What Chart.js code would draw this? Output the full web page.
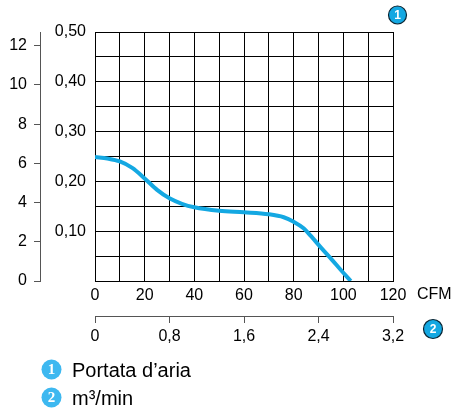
<!DOCTYPE html>
<html>
<head>
<meta charset="utf-8">
<script src="https://cdn.jsdelivr.net/npm/chart.js@4.4.1/dist/chart.umd.min.js"></script>
<style>
  html, body { margin: 0; padding: 0; background: #fff; }
  #wrap { width: 454px; height: 410px; }
</style>
</head>
<body>
<div id="wrap"><canvas id="fan"></canvas></div>
<script>
// fan curve: airflow (CFM) vs static pressure (in H2O)
const airflowCfm = [0, 5, 10, 15, 20, 25, 30, 35, 40, 50, 60, 70, 76, 80, 84, 87, 91, 95, 99, 103];
const pressureInH2O = [0.249, 0.246, 0.240, 0.227, 0.206, 0.183, 0.166, 0.155, 0.148, 0.141, 0.138, 0.134, 0.128, 0.119, 0.106, 0.090, 0.067, 0.045, 0.022, 0];

const legendLabels = ['Portata d\u2019aria', 'm\u00b3/min'];
const unitLabel = 'CFM';

const curveBlue = '#14a8e2';
const badgeBlue = '#3db8f0';

Chart.defaults.font.family = '"Liberation Sans", Arial, sans-serif';
Chart.defaults.font.size = 16;
Chart.defaults.color = '#000';

const comma = (v, d) => (v === 0 ? '0' : v.toFixed(d).replace('.', ','));

function badge(ctx, x, y, r, n, fill, stroke, font) {
  ctx.beginPath();
  ctx.arc(x, y, r, 0, Math.PI * 2);
  ctx.fillStyle = fill;
  ctx.fill();
  if (stroke) {
    ctx.lineWidth = 1.2;
    ctx.strokeStyle = stroke;
    ctx.stroke();
  }
  ctx.fillStyle = '#fff';
  ctx.font = font;
  ctx.textAlign = 'center';
  ctx.textBaseline = 'middle';
  ctx.fillText(n, x, y + 1);
}

const extrasPlugin = {
  id: 'extras',
  afterDraw(chart) {
    const ctx = chart.ctx;
    const xs = chart.scales.x;
    ctx.save();
    // unit after the CFM labels
    ctx.fillStyle = '#000';
    ctx.font = '16px "Liberation Sans", Arial, sans-serif';
    ctx.textAlign = 'left';
    ctx.textBaseline = 'middle';
    ctx.fillText(unitLabel, xs.right + 24, 295);
    // numbered badges
    badge(ctx, 397.5, 15, 9, '1', curveBlue, '#0b2533', 'bold 12px "Liberation Sans", Arial, sans-serif');
    badge(ctx, 433, 329, 9.5, '2', curveBlue, '#0b2533', 'bold 12px "Liberation Sans", Arial, sans-serif');
    // legend
    legendLabels.forEach((txt, i) => {
      const cy = 369.5 + i * 28;
      badge(ctx, 51.5, cy, 10, String(i + 1), badgeBlue, null, 'bold 15px "Liberation Serif", serif');
      ctx.fillStyle = '#000';
      ctx.font = '20px "Liberation Sans", Arial, sans-serif';
      ctx.textAlign = 'left';
      ctx.textBaseline = 'alphabetic';
      ctx.fillText(txt, 72, cy + 7);
    });
    ctx.restore();
  }
};

new Chart('fan', {
  type: 'line',
  data: {
    datasets: [{
      label: legendLabels[0],
      data: airflowCfm.map((x, i) => ({ x, y: pressureInH2O[i] })),
      borderColor: curveBlue,
      borderWidth: 4,
      pointRadius: 0,
      cubicInterpolationMode: 'monotone',
      fill: false,
      xAxisID: 'x',
      yAxisID: 'y'
    }]
  },
  options: {
    responsive: true,
    maintainAspectRatio: false,
    animation: false,
    layout: { padding: { left: 0, top: 32, right: 61, bottom: 60 } },
    plugins: { legend: { display: false }, tooltip: { enabled: false } },
    scales: {
      x: {
        type: 'linear', position: 'bottom', weight: 0,
        min: 0, max: 120,
        grid: { color: '#000', lineWidth: 1, drawTicks: false },
        border: { color: '#000', width: 1 },
        ticks: {
          stepSize: 10, padding: 5, maxRotation: 0, autoSkip: false,
          callback: v => (v % 20 === 0 ? String(v) : '')
        },
        afterFit: s => { s.height = 35; }
      },
      x2: {
        type: 'linear', position: 'bottom', weight: 1,
        min: 0, max: 3.2,
        grid: { drawOnChartArea: false, drawTicks: true, tickLength: 7, color: '#555' },
        border: { color: '#555', width: 1 },
        ticks: { stepSize: 0.8, padding: 4, maxRotation: 0, autoSkip: false, callback: v => comma(v, 1) },
        afterFit: s => { s.height = 34; }
      },
      y: {
        type: 'linear', position: 'left', weight: 0,
        min: 0, max: 0.5,
        grid: { color: '#000', lineWidth: 1, drawTicks: false },
        border: { color: '#000', width: 1 },
        ticks: {
          stepSize: 0.05, padding: 9, autoSkip: false,
          callback: v => {
            const k = Math.round(v * 100);
            return k > 0 && k % 10 === 0 ? comma(v, 2) : '';
          }
        },
        afterFit: s => { s.width = 55; }
      },
      y2: {
        type: 'linear', position: 'left', weight: 1,
        min: 0, max: 12.7, bounds: 'data',
        grid: { drawOnChartArea: false, drawTicks: true, tickLength: 6, color: '#555' },
        border: { color: '#555', width: 1 },
        ticks: { stepSize: 2, includeBounds: false, padding: 7, autoSkip: false },
        afterFit: s => { s.width = 40; }
      }
    }
  },
  plugins: [extrasPlugin]
});
</script>
</body>
</html>
